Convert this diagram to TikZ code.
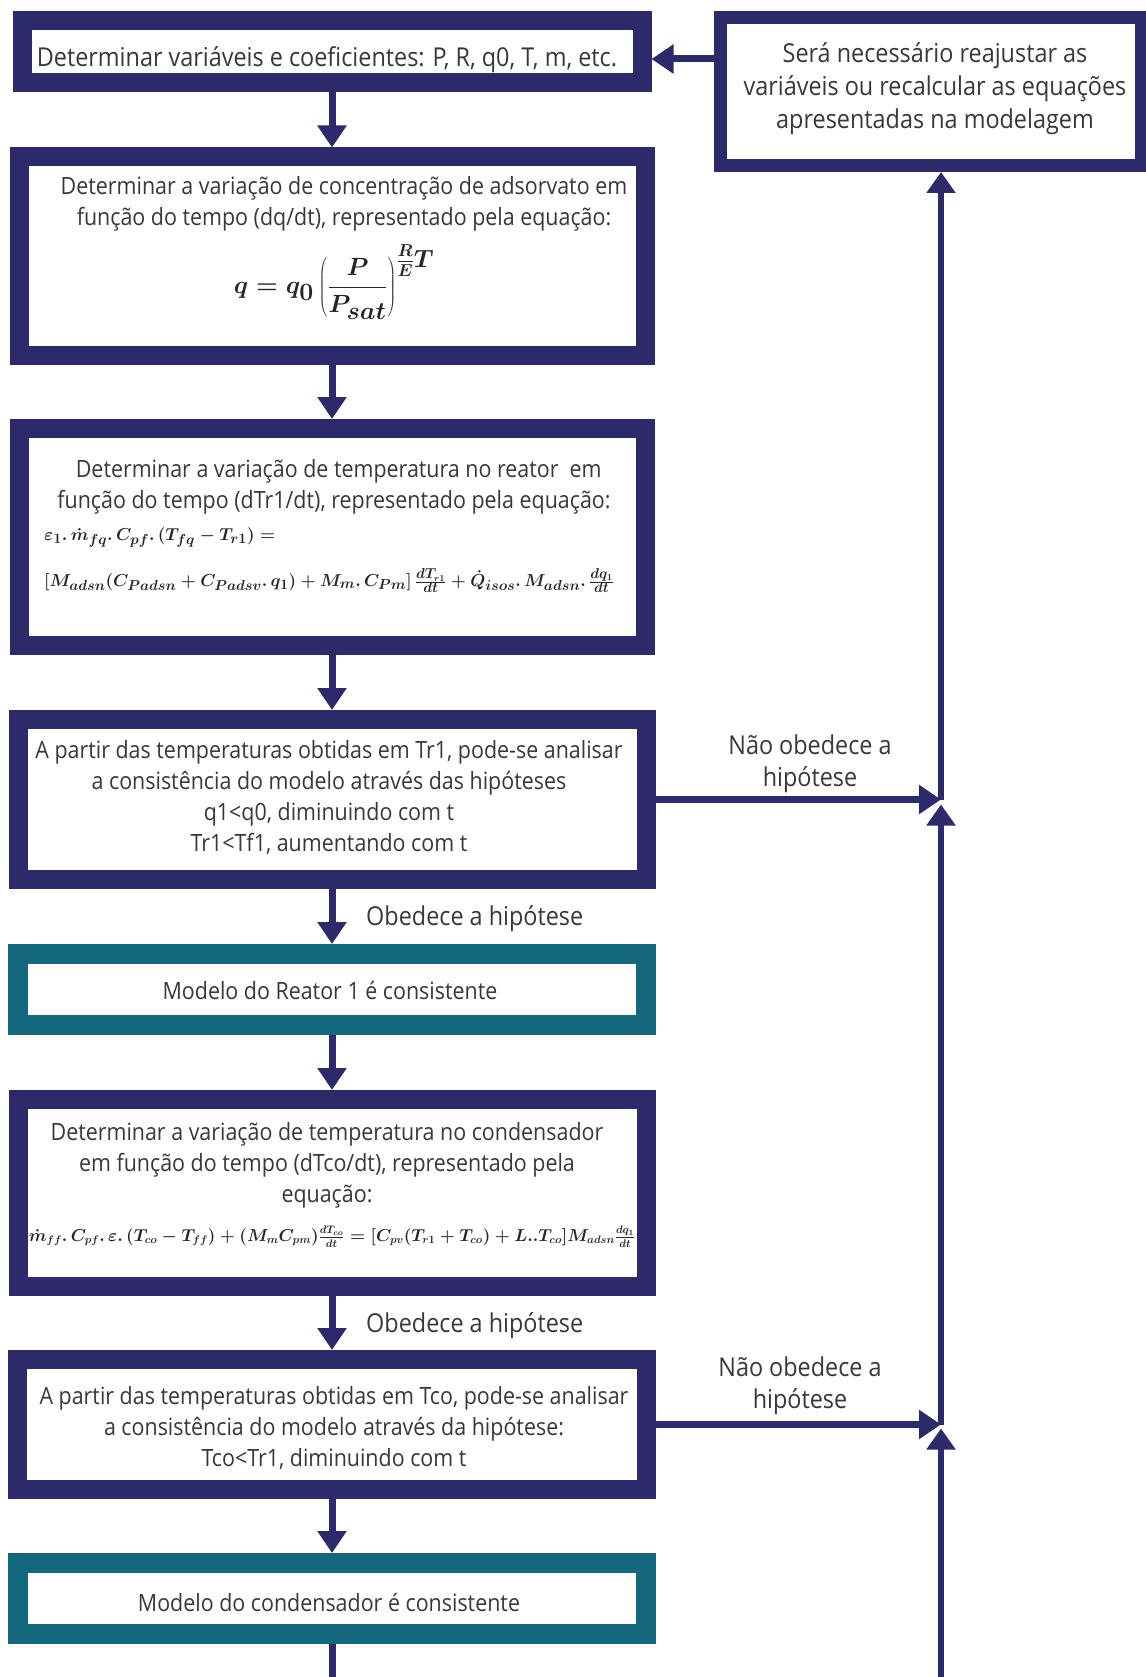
\documentclass[tikz,border=0pt]{standalone}
\usepackage{fontspec}
\setmainfont{Open Sans}[FakeStretch=0.9]
\usetikzlibrary{arrows.meta,calc}

\definecolor{navy}{HTML}{2D2A6B}
\definecolor{petrol}{HTML}{13687E}
\definecolor{ink}{HTML}{383838}
\definecolor{mathink}{HTML}{262626}

\tikzset{
  navybox/.style={draw=navy, line width=19pt, fill=white, inner sep=0pt},
  sidebox/.style={draw=navy, line width=13pt, fill=white, inner sep=0pt},
  tealbox/.style={draw=petrol, line width=20pt, fill=white, inner sep=0pt},
  body/.style={text=ink, align=center, inner sep=0pt,
    font=\fontsize{23.8}{31}\selectfont},
  bigbody/.style={text=ink, align=center, inner sep=0pt,
    font=\fontsize{26}{33}\selectfont},
  tag/.style={text=ink, align=center, inner sep=0pt,
    font=\fontsize{26}{32}\selectfont},
  formula/.style={text=mathink, inner sep=0pt},
  flow/.style={draw=navy, line width=7pt,
    -{Triangle[width=28pt,length=22pt]}},
  backflow/.style={draw=navy, line width=5.5pt,
    -{Triangle[width=28pt,length=21pt]}},
  plain/.style={draw=navy, line width=7pt},
}

\begin{document}
\begin{tikzpicture}[x=1pt,y=-1pt]
\useasboundingbox (0,0) rectangle (1145,1677);

% main column of steps
\node[navybox, minimum width=620pt, minimum height=62pt]  (b1) at (332,51.5) {};
\node[navybox, minimum width=626pt, minimum height=198pt] (b2) at (332,256) {};
\node[navybox, minimum width=626pt, minimum height=217pt] (b3) at (332,537) {};
\node[navybox, minimum width=628pt, minimum height=160pt] (b4) at (332,799.5) {};
\node[tealbox, minimum width=628pt, minimum height=71pt]  (b5) at (332,989.5) {};
\node[navybox, minimum width=628pt, minimum height=187pt] (b6) at (332,1193) {};
\node[navybox, minimum width=629pt, minimum height=130pt] (b7) at (332,1424.5) {};
\node[tealbox, minimum width=628pt, minimum height=71pt]  (b8) at (332,1598.5) {};

% side box
\node[sidebox, minimum width=421pt, minimum height=148pt] (R) at (931,91.5) {};

% texts
\node[bigbody] (t1) at (327,60) {Determinar variáveis e coeficientes: P, R, q0, T, m, etc.};

\node[body] (t2) at (344,204) {Determinar a variação de concentração de adsorvato em\\
  função do tempo (dq/dt), representado pela equação:};
\node[formula, font=\fontsize{33}{40}\selectfont\boldmath] (e2) at (334,282)
  {$q = q_0\left({\displaystyle\frac{P}{P_{sat}}}\right)^{\frac{R}{E}T}$};

\node[body] (t3) at (334,487) {\hspace*{0.4em}Determinar a variação de temperatura no reator \ em\\
  função do tempo (dTr1/dt), representado pela equação:};
\node[formula, anchor=west, align=left, font=\fontsize{19}{46}\selectfont\boldmath] (e3) at (44,560)
  {$\varepsilon_1.\,\dot m_{fq}.\,C_{pf}.\,(T_{fq}-T_{r1}) =$\\
   $[M_{adsn}(C_{Padsn}+C_{Padsv}.\,q_1)+M_m.\,C_{Pm}]\,\frac{dT_{r1}}{dt}
    +\dot Q_{isos}.\,M_{adsn}.\,\frac{dq_1}{dt}$};

\node[body] (t4) at (329,797) {A partir das temperaturas obtidas em Tr1, pode-se analisar\\
  a consistência do modelo através das hipóteses\\
  q1<q0, diminuindo com t\\
  Tr1<Tf1, aumentando com t};

\node[body] (t5) at (330,990) {Modelo do Reator 1 é consistente};

\node[body] (t6) at (327,1165) {Determinar a variação de temperatura no condensador\\
  em função do tempo (dTco/dt), representado pela\\
  equação:};
\node[formula, font=\fontsize{16}{22}\selectfont\boldmath] (e6) at (332,1237)
  {$\dot m_{ff}.\,C_{pf}.\,\varepsilon.\,(T_{co}-T_{ff})+(M_mC_{pm})\frac{dT_{co}}{dt}
    =[C_{pv}(T_{r1}+T_{co})+L..T_{co}]M_{adsn}\frac{dq_1}{dt}$};

\node[body] (t7) at (334,1428) {A partir das temperaturas obtidas em Tco, pode-se analisar\\
  a consistência do modelo através da hipótese:\\
  Tco<Tr1, diminuindo com t};

\node[body] (t8) at (329,1602) {Modelo do condensador é consistente};

\node[bigbody] (tR) at (935,89) {Será necessário reajustar as\\
  variáveis ou recalcular as equações\\
  apresentadas na modelagem};

% branch labels
\node[tag, anchor=west] (ok1) at (366,919) {Obedece a hipótese};
\node[tag, anchor=west] (ok2) at (366,1326) {Obedece a hipótese};
\node[tag] (no1) at (810,764) {Não obedece a\\hipótese};
\node[tag] (no2) at (800,1386) {Não obedece a\\hipótese};

% main flow
\draw[flow] (b1.south) -- (b2.north);
\draw[flow] (b2.south) -- (b3.north);
\draw[flow] (b3.south) -- (b4.north);
\draw[flow] (b4.south) -- (b5.north);
\draw[flow] (b5.south) -- (b6.north);
\draw[flow] (b6.south) -- (b7.north);
\draw[flow] (b7.south) -- (b8.north);
\coordinate (outL) at (332,1677);
\draw[plain] (b8.south) -- (outL);

% return path on the right
\coordinate (rx) at (941,0);
\coordinate (outR) at (941,1677);
\coordinate (back) at (680,59);
\draw[flow] (b4.east) -- (b4.east -| rx);
\draw[flow] (b7.east) -- (b7.east -| rx);
\draw[backflow] (b4.east -| rx) -- (R.south -| rx);
\draw[backflow] (b7.east -| rx) -- ($(b4.east -| rx)+(0,5)$);
\draw[backflow] (outR) -- ($(b7.east -| rx)+(0,4)$);
\draw[flow] (R.west |- back) -- (b1.east |- back);
\end{tikzpicture}
\end{document}
